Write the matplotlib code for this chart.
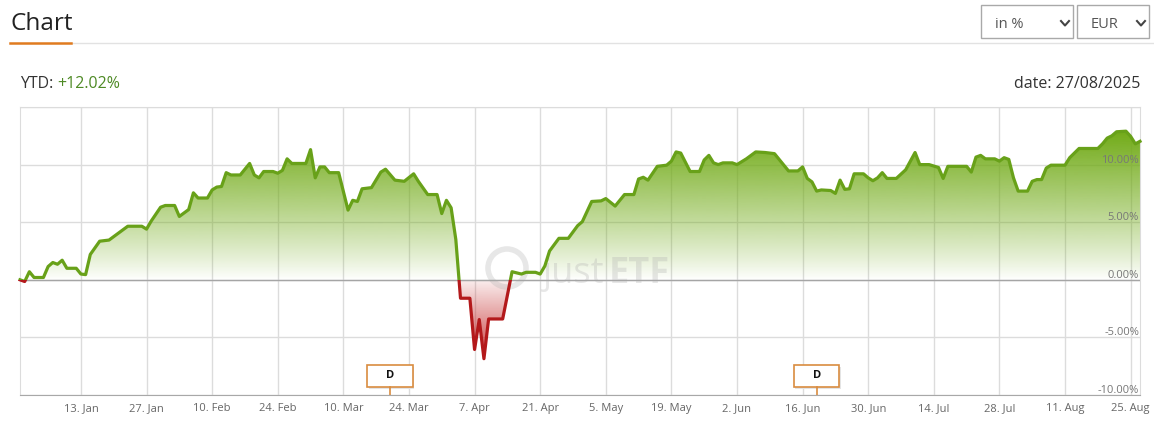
import matplotlib
matplotlib.use("Agg")
import numpy as np
import pandas as pd
import matplotlib.pyplot as plt
import matplotlib.dates as mdates
from matplotlib.colors import to_rgb
from matplotlib.lines import Line2D
from matplotlib.patches import Rectangle, Ellipse, PathPatch
from matplotlib.path import Path
from matplotlib.transforms import blended_transform_factory

plt.rcParams['font.family'] = ['Open Sans', 'DejaVu Sans']

# YTD performance in %
dates = [
    '2024-12-31', '2025-01-01', '2025-01-02', '2025-01-03', '2025-01-05', '2025-01-06',
    '2025-01-07', '2025-01-08', '2025-01-09', '2025-01-10', '2025-01-12', '2025-01-13',
    '2025-01-14', '2025-01-15', '2025-01-17', '2025-01-19', '2025-01-20', '2025-01-23',
    '2025-01-26', '2025-01-27', '2025-01-28', '2025-01-30', '2025-01-31', '2025-02-02',
    '2025-02-03', '2025-02-05', '2025-02-06', '2025-02-07', '2025-02-09', '2025-02-10',
    '2025-02-11', '2025-02-12', '2025-02-13', '2025-02-14', '2025-02-16', '2025-02-18',
    '2025-02-19', '2025-02-20', '2025-02-21', '2025-02-23', '2025-02-24', '2025-02-25',
    '2025-02-26', '2025-02-27', '2025-03-02', '2025-03-03', '2025-03-04', '2025-03-05',
    '2025-03-06', '2025-03-07', '2025-03-09', '2025-03-11', '2025-03-12', '2025-03-13',
    '2025-03-14', '2025-03-16', '2025-03-18', '2025-03-19', '2025-03-21', '2025-03-23',
    '2025-03-25', '2025-03-26', '2025-03-28', '2025-03-30', '2025-03-31', '2025-04-01',
    '2025-04-02', '2025-04-03', '2025-04-04', '2025-04-06', '2025-04-07', '2025-04-08',
    '2025-04-09', '2025-04-10', '2025-04-13', '2025-04-15', '2025-04-17', '2025-04-18',
    '2025-04-20', '2025-04-21', '2025-04-22', '2025-04-23', '2025-04-25', '2025-04-27',
    '2025-04-29', '2025-04-30', '2025-05-02', '2025-05-04', '2025-05-05', '2025-05-07',
    '2025-05-09', '2025-05-11', '2025-05-12', '2025-05-13', '2025-05-14', '2025-05-16',
    '2025-05-18', '2025-05-19', '2025-05-20', '2025-05-21', '2025-05-23', '2025-05-25',
    '2025-05-26', '2025-05-27', '2025-05-28', '2025-05-29', '2025-05-30', '2025-06-01',
    '2025-06-02', '2025-06-04', '2025-06-06', '2025-06-08', '2025-06-10', '2025-06-11',
    '2025-06-13', '2025-06-15', '2025-06-16', '2025-06-17', '2025-06-18', '2025-06-19',
    '2025-06-20', '2025-06-22', '2025-06-23', '2025-06-24', '2025-06-25', '2025-06-26',
    '2025-06-27', '2025-06-29', '2025-06-30', '2025-07-01', '2025-07-02', '2025-07-03',
    '2025-07-04', '2025-07-06', '2025-07-08', '2025-07-10', '2025-07-11', '2025-07-13',
    '2025-07-15', '2025-07-16', '2025-07-17', '2025-07-21', '2025-07-22', '2025-07-23',
    '2025-07-24', '2025-07-25', '2025-07-27', '2025-07-28', '2025-07-29', '2025-07-30',
    '2025-07-31', '2025-08-01', '2025-08-03', '2025-08-04', '2025-08-05', '2025-08-06',
    '2025-08-07', '2025-08-08', '2025-08-11', '2025-08-12', '2025-08-14', '2025-08-18',
    '2025-08-19', '2025-08-20', '2025-08-21', '2025-08-22', '2025-08-24', '2025-08-25',
    '2025-08-26', '2025-08-27',
]
values = [
    0.0, -0.15, 0.7, 0.2, 0.2, 1.15,
    1.5, 1.35, 1.7, 1.0, 1.0, 0.5,
    0.45, 2.2, 3.35, 3.45, 3.75, 4.65,
    4.65, 4.4, 5.1, 6.3, 6.45, 6.45,
    5.5, 6.1, 7.55, 7.1, 7.1, 7.8,
    8.05, 8.1, 9.3, 9.1, 9.1, 10.1,
    9.1, 8.85, 9.4, 9.4, 9.25, 9.5,
    10.5, 10.1, 10.1, 11.3, 8.85, 9.8,
    9.8, 9.3, 9.3, 6.05, 6.9, 6.8,
    7.9, 8.0, 9.35, 9.6, 8.65, 8.55,
    9.2, 8.55, 7.4, 7.4, 5.75, 6.9,
    6.25, 3.5, -1.6, -1.6, -6.05, -3.45,
    -6.85, -3.4, -3.4, 0.7, 0.5, 0.65,
    0.65, 0.5, 1.2, 2.5, 3.6, 3.6,
    4.7, 5.05, 6.8, 6.85, 7.05, 6.4,
    7.4, 7.4, 8.75, 8.9, 8.65, 9.85,
    9.95, 10.3, 11.1, 11.0, 9.4, 9.4,
    10.4, 10.8, 10.15, 10.0, 10.15, 10.15,
    10.0, 10.5, 11.1, 11.05, 10.95, 10.45,
    9.45, 9.45, 9.8, 8.8, 8.5, 7.7,
    7.8, 7.75, 7.5, 8.65, 7.85, 7.9,
    9.2, 9.2, 8.85, 8.6, 8.85, 9.3,
    8.8, 8.8, 9.55, 11.05, 10.0, 10.0,
    9.75, 8.8, 9.85, 9.85, 9.35, 10.65,
    10.8, 10.5, 10.5, 10.3, 10.6, 10.45,
    8.85, 7.7, 7.7, 8.55, 8.7, 8.7,
    9.7, 9.95, 9.95, 10.6, 11.4, 11.4,
    11.8, 12.3, 12.5, 12.85, 12.9, 12.45,
    11.8, 12.02,
]
dividend_dates = ['2025-03-20', '2025-06-19']

x_tick_dates = ['2025-01-13', '2025-01-27', '2025-02-10', '2025-02-24', '2025-03-10',
                '2025-03-24', '2025-04-07', '2025-04-21', '2025-05-05', '2025-05-19',
                '2025-06-02', '2025-06-16', '2025-06-30', '2025-07-14', '2025-07-28',
                '2025-08-11', '2025-08-25']
x_tick_labels = ['13. Jan', '27. Jan', '10. Feb', '24. Feb', '10. Mar', '24. Mar',
                 '7. Apr', '21. Apr', '5. May', '19. May', '2. Jun', '16. Jun',
                 '30. Jun', '14. Jul', '28. Jul', '11. Aug', '25. Aug']
y_grid = [-10, -5, 0, 5, 10, 15]
y_labels = ['-10.00%', '-5.00%', '0.00%', '5.00%', '10.00%']
x_start, x_end = '2024-12-31', '2025-08-27'
as_of = '27/08/2025'

W, H = 1154, 428
fig = plt.figure(figsize=(W / 100, H / 100), dpi=100)
fig.patch.set_facecolor('white')


def fx(px):
    return px / W


def fy(py):
    return 1 - py / H


# ---- header ----
fig.text(fx(10), fy(30), 'Chart', fontsize=17.5, color='#222222', va='baseline')
fig.add_artist(Line2D([fx(71), fx(1154)], [fy(42.5)] * 2, color='#e2e2e2', lw=1))
fig.add_artist(Line2D([fx(10), fx(71)], [fy(42.5)] * 2, color='#e07b1f', lw=1.8))

for left, right, label in [(981, 1073, 'in %'), (1077, 1149, 'EUR')]:
    fig.add_artist(Rectangle((fx(left), fy(37.5)), fx(right - left), 32.5 / H,
                             transform=fig.transFigure, fc='white', ec='#a9a9a9', lw=1))
    fig.text(fx(left + 14), fy(24), label, fontsize=10.5, color='#555555', va='center')
    cx = right - 8
    fig.add_artist(Line2D([fx(cx - 4), fx(cx), fx(cx + 4)], [fy(21), fy(25.5), fy(21)],
                          color='#444444', lw=1.5))

fig.text(fx(20), fy(88), 'YTD:', fontsize=11.5, color='#333333', va='baseline')
fig.text(fx(57), fy(88), f'+{values[-1]:.2f}%', fontsize=11.5, color='#4e8a25', va='baseline')
fig.text(fx(1140), fy(88), f'date: {as_of}', fontsize=11.5, color='#333333',
         va='baseline', ha='right')

# ---- chart ----
ax = fig.add_axes([fx(20), fy(395), fx(1120), 288 / H])
x = mdates.date2num(pd.to_datetime(dates))
y = np.array(values)

area_verts = np.column_stack([np.r_[x[0], x, x[-1], x[0]], np.r_[0, y, 0, 0]])
area = PathPatch(Path(area_verts, closed=True), transform=ax.transData, fc='none', ec='none')
ax.add_patch(area)

green = np.zeros((256, 1, 4))
green[..., :3] = to_rgb('#72ab18')
green[..., 3] = np.linspace(0.0, 1.0, 256)[:, None] ** 0.9
im_g = ax.imshow(green, extent=[x[0], x[-1], 0, y.max()], origin='lower',
                 aspect='auto', interpolation='bilinear', zorder=1)
im_g.set_clip_path(area)

red = np.zeros((256, 1, 4))
red[..., :3] = to_rgb('#c01e1e')
red[..., 3] = np.linspace(0.85, 0.08, 256)[:, None]
im_r = ax.imshow(red, extent=[x[0], x[-1], y.min(), 0], origin='lower',
                 aspect='auto', interpolation='bilinear', zorder=1)
im_r.set_clip_path(area)

# watermark
wm = dict(transform=ax.transAxes, fontsize=26, color='#aaaaaa', alpha=0.28,
          va='baseline', zorder=2)
ax.text((543 - 20) / 1120, (395 - 283) / 288, 'just', **wm)
ax.text((609 - 20) / 1120, (395 - 283) / 288, 'ETF', fontweight='bold', **wm)
ax.add_patch(Ellipse(((507 - 20) / 1120, (395 - 268) / 288), 38 / 1120, 38 / 288,
                     transform=ax.transAxes, fill=False, ec='#aaaaaa', alpha=0.28,
                     lw=4, zorder=2))

xmin = mdates.date2num(pd.Timestamp(x_start))
xmax = mdates.date2num(pd.Timestamp(x_end))

ax.axhline(0, color='#a5a5a5', lw=1, zorder=3)

line_g, = ax.plot(x, y, color='#68a119', lw=2.3, zorder=4, solid_joinstyle='round')
line_g.set_clip_path(Rectangle((xmin - 5, 0), xmax - xmin + 10, 40, transform=ax.transData))
line_r, = ax.plot(x, y, color='#b3191b', lw=2.3, zorder=4, solid_joinstyle='round')
line_r.set_clip_path(Rectangle((xmin - 5, -40), xmax - xmin + 10, 40, transform=ax.transData))

ax.set_xlim(xmin, xmax)
ax.set_ylim(y_grid[0], y_grid[-1])

ax.set_xticks(mdates.date2num(pd.to_datetime(x_tick_dates)))
ax.set_xticklabels(x_tick_labels, fontsize=8, color='#666666')
ax.set_yticks(y_grid)
ax.set_yticklabels([])
ax.tick_params(axis='both', length=0)
ax.tick_params(axis='x', pad=6)
ax.grid(True, color='#dcdcdc', lw=1, zorder=0)
ax.set_axisbelow(True)

for side in ['left', 'top', 'right']:
    ax.spines[side].set_color('#dcdcdc')
ax.spines['bottom'].set_color('#a8a8a8')

for val, lab in zip(y_grid, y_labels):
    ax.annotate(lab, xy=(1, val), xycoords=('axes fraction', 'data'),
                xytext=(-1, 2), textcoords='offset pixels', ha='right', va='baseline',
                fontsize=8, color='#777777', zorder=5)

# dividend markers
trans = blended_transform_factory(ax.transData, ax.transAxes)
for d in dividend_dates:
    xd = mdates.date2num(pd.Timestamp(d))
    ax.add_patch(Rectangle((xd - 4.6, 6 / 288), 9.7, 22 / 288, transform=trans,
                           fc='#e4e4e4', ec='none', zorder=6, clip_on=False))
    ax.add_patch(Rectangle((xd - 4.85, 8.5 / 288), 9.7, 21.5 / 288, transform=trans,
                           fc='white', ec='#d98c40', lw=1.2, zorder=7, clip_on=False))
    ax.plot([xd, xd], [0, 8.5 / 288], transform=trans, color='#d98c40', lw=1.2, zorder=7)
    ax.text(xd, 19.5 / 288, 'D', transform=trans, ha='center', va='center',
            fontsize=8, fontweight='bold', color='#111111', zorder=8)

fig.savefig('out.png', dpi=100)
